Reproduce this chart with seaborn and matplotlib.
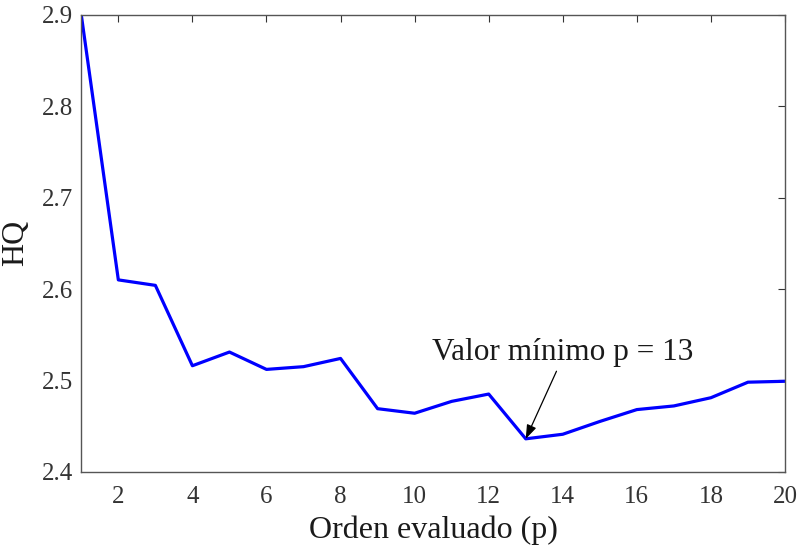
import matplotlib
matplotlib.use("Agg")
import matplotlib.pyplot as plt
import seaborn as sns
import pandas as pd

# Hannan-Quinn criterion for each evaluated order
orders = list(range(1, 21))
hq_values = [2.900, 2.610, 2.604, 2.516, 2.531, 2.512, 2.515, 2.524, 2.469, 2.464,
             2.477, 2.485, 2.436, 2.441, 2.455, 2.468, 2.472, 2.481, 2.498, 2.499]
x_ticks = [2, 4, 6, 8, 10, 12, 14, 16, 18, 20]
y_ticks = [2.4, 2.5, 2.6, 2.7, 2.8, 2.9]
min_label = "Valor mínimo p = 13"
min_order = 13
min_value = hq_values[orders.index(min_order)]

df = pd.DataFrame({"p": orders, "HQ": hq_values})

sns.set_theme(style="white")
plt.rcParams["font.family"] = ["Liberation Serif", "DejaVu Serif"]

fig = plt.figure(figsize=(7.97, 5.47), dpi=100)
ax = fig.add_axes([81.3 / 797, 1 - 471.7 / 547, (785 - 81.3) / 797, (471.7 - 15) / 547])

sns.lineplot(data=df, x="p", y="HQ", ax=ax, color="#0000ff", linewidth=2.3)

ax.set_xlim(1, 20)
ax.set_ylim(2.4, 2.9)
ax.set_xticks(x_ticks)
ax.set_yticks(y_ticks)
ax.set_yticklabels([f"{v:.1f}" for v in y_ticks])

ax.tick_params(direction="in", length=5, width=0.8, colors="#333333",
               labelsize=18, top=True, right=True, labelcolor="#333333")
ax.tick_params(axis="x", pad=10)
ax.tick_params(axis="y", pad=6)
for sp in ax.spines.values():
    sp.set_color("#555555")
    sp.set_linewidth(1.0)

ax.set_xlabel("Orden evaluado (p)", fontsize=23, color="#1a1a1a", labelpad=6)
ax.set_ylabel("HQ", fontsize=23, color="#1a1a1a", labelpad=8)

# label and arrow for the minimum
ax.text(14.0, 2.531, min_label, fontsize=22.5, ha="center", va="center", color="#1a1a1a")
ax.annotate("", xy=(min_order, min_value), xytext=(13.83, 2.510),
            arrowprops=dict(arrowstyle="-|>,head_length=0.7,head_width=0.25",
                            color="black", lw=0.9, shrinkA=0, shrinkB=0))

fig.savefig("out.png", dpi=100)
